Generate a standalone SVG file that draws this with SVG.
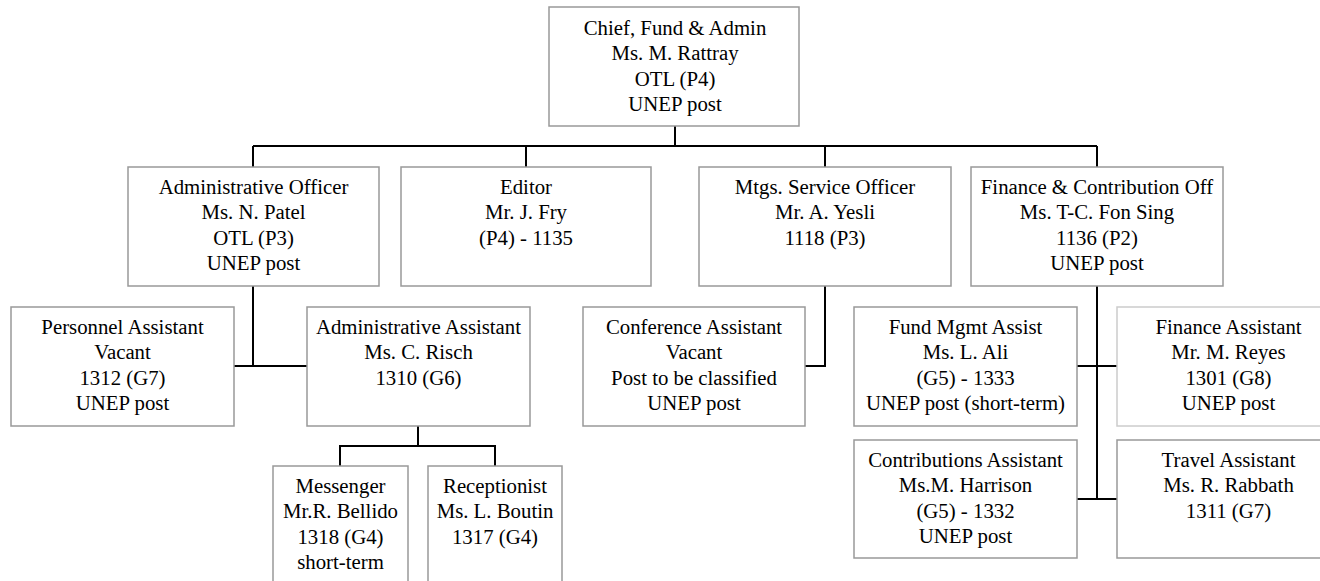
<svg xmlns="http://www.w3.org/2000/svg" width="1320" height="581" viewBox="0 0 1320 581">
<style>
.box{fill:#fff;stroke:#999;stroke-width:1.5}
.light{stroke:#ccc}
.t{font-family:"Liberation Serif","Times New Roman",serif;font-size:20.8px;fill:#000;text-anchor:middle}
.c{fill:none;stroke:#000;stroke-width:2}
</style>
<rect width="1320" height="581" fill="#fff"/>
<g id="connectors">
<path class="c" d="M675 126V146M253 146H1097M253 146V167M526 146V167M825 146V167M1097 146V167"/>
<path class="c" d="M253 286V366M234 366H307"/>
<path class="c" d="M825 286V366H805"/>
<path class="c" d="M1097 286V499M1077 366H1117M1077 499H1117"/>
<path class="c" d="M418 426V446M340 466V446H495V466"/>
</g>
<g id="chief"><rect class="box" x="549" y="7" width="250" height="119"/>
<text class="t" x="675" y="35"><tspan x="675">Chief, Fund &amp; Admin</tspan><tspan x="675" dy="25.3">Ms. M. Rattray</tspan><tspan x="675" dy="25.3">OTL (P4)</tspan><tspan x="675" dy="25.3">UNEP post</tspan></text></g>
<g id="admin-officer"><rect class="box" x="128" y="167" width="251" height="119"/>
<text class="t" x="253.5" y="194"><tspan x="253.5">Administrative Officer</tspan><tspan x="253.5" dy="25.3">Ms. N. Patel</tspan><tspan x="253.5" dy="25.3">OTL (P3)</tspan><tspan x="253.5" dy="25.3">UNEP post</tspan></text></g>
<g id="editor"><rect class="box" x="401" y="167" width="250" height="119"/>
<text class="t" x="526" y="194"><tspan x="526">Editor</tspan><tspan x="526" dy="25.3">Mr. J. Fry</tspan><tspan x="526" dy="25.3">(P4) - 1135</tspan></text></g>
<g id="mtgs-officer"><rect class="box" x="699" y="167" width="252" height="119"/>
<text class="t" x="825" y="194"><tspan x="825">Mtgs. Service Officer</tspan><tspan x="825" dy="25.3">Mr. A. Yesli</tspan><tspan x="825" dy="25.3">1118 (P3)</tspan></text></g>
<g id="finance-officer"><rect class="box" x="971" y="167" width="252" height="119"/>
<text class="t" x="1097" y="194"><tspan x="1097">Finance &amp; Contribution Off</tspan><tspan x="1097" dy="25.3">Ms. T-C. Fon Sing</tspan><tspan x="1097" dy="25.3">1136 (P2)</tspan><tspan x="1097" dy="25.3">UNEP post</tspan></text></g>
<g id="personnel-assistant"><rect class="box" x="11" y="307" width="223" height="119"/>
<text class="t" x="122.5" y="334"><tspan x="122.5">Personnel Assistant</tspan><tspan x="122.5" dy="25.3">Vacant</tspan><tspan x="122.5" dy="25.3">1312 (G7)</tspan><tspan x="122.5" dy="25.3">UNEP post</tspan></text></g>
<g id="admin-assistant"><rect class="box" x="307" y="307" width="223" height="119"/>
<text class="t" x="418.5" y="334"><tspan x="418.5">Administrative Assistant</tspan><tspan x="418.5" dy="25.3">Ms. C. Risch</tspan><tspan x="418.5" dy="25.3">1310 (G6)</tspan></text></g>
<g id="conference-assistant"><rect class="box" x="583" y="307" width="222" height="119"/>
<text class="t" x="694" y="334"><tspan x="694">Conference Assistant</tspan><tspan x="694" dy="25.3">Vacant</tspan><tspan x="694" dy="25.3">Post to be classified</tspan><tspan x="694" dy="25.3">UNEP post</tspan></text></g>
<g id="fund-mgmt"><rect class="box" x="854" y="307" width="223" height="119"/>
<text class="t" x="965.5" y="334"><tspan x="965.5">Fund Mgmt Assist</tspan><tspan x="965.5" dy="25.3">Ms. L. Ali</tspan><tspan x="965.5" dy="25.3">(G5) - 1333</tspan><tspan x="965.5" dy="25.3">UNEP post (short-term)</tspan></text></g>
<g id="finance-assistant"><rect class="box light" x="1117" y="307" width="223" height="119"/>
<text class="t" x="1228.5" y="334"><tspan x="1228.5">Finance Assistant</tspan><tspan x="1228.5" dy="25.3">Mr. M. Reyes</tspan><tspan x="1228.5" dy="25.3">1301 (G8)</tspan><tspan x="1228.5" dy="25.3">UNEP post</tspan></text></g>
<g id="contributions-assistant"><rect class="box" x="854" y="440" width="223" height="118"/>
<text class="t" x="965.5" y="467"><tspan x="965.5">Contributions Assistant</tspan><tspan x="965.5" dy="25.3">Ms.M. Harrison</tspan><tspan x="965.5" dy="25.3">(G5) - 1332</tspan><tspan x="965.5" dy="25.3">UNEP post</tspan></text></g>
<g id="travel-assistant"><rect class="box" x="1117" y="440" width="223" height="118"/>
<text class="t" x="1228.5" y="467"><tspan x="1228.5">Travel Assistant</tspan><tspan x="1228.5" dy="25.3">Ms. R. Rabbath</tspan><tspan x="1228.5" dy="25.3">1311 (G7)</tspan></text></g>
<g id="messenger"><rect class="box" x="273" y="466" width="135" height="119"/>
<text class="t" x="340.5" y="493"><tspan x="340.5">Messenger</tspan><tspan x="340.5" dy="25.3">Mr.R. Bellido</tspan><tspan x="340.5" dy="25.3">1318 (G4)</tspan><tspan x="340.5" dy="25.3">short-term</tspan></text></g>
<g id="receptionist"><rect class="box" x="428" y="466" width="134" height="119"/>
<text class="t" x="495" y="493"><tspan x="495">Receptionist</tspan><tspan x="495" dy="25.3">Ms. L. Boutin</tspan><tspan x="495" dy="25.3">1317 (G4)</tspan></text></g>
</svg>
